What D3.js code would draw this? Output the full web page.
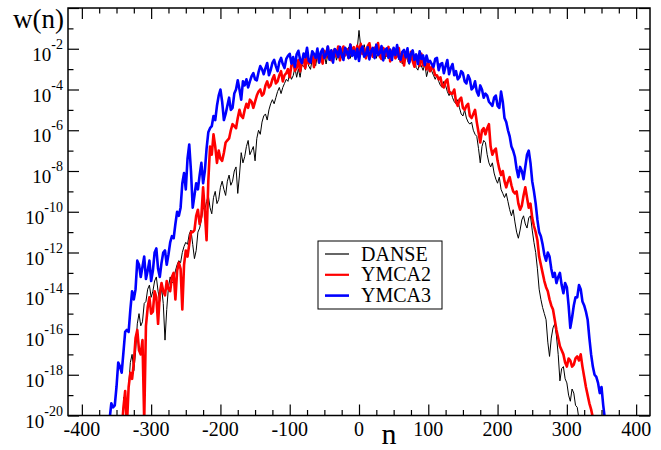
<!DOCTYPE html>
<html><head><meta charset="utf-8">
<script src="https://cdn.jsdelivr.net/npm/d3@7"></script>
<style>
body{margin:0;background:#fff}
svg{display:block}
text{font-family:"Liberation Serif","Times New Roman",serif;fill:#000}
</style>
</head><body>
<svg id="c" width="661" height="450"></svg>
<script>
// n values (main grid)
const nValues = [
-360,-355,-350,-345,-340,-335,-330,-325,-320,-315,
-310,-305,-300,-295,-290,-285,-280,-275,-270,-265,
-260,-255,-250,-245,-240,-235,-230,-225,-220,-215,
-210,-205,-200,-195,-190,-185,-180,-175,-170,-165,
-160,-155,-150,-145,-140,-135,-130,-125,-120,-115,
-110,-105,-100,-95,-90,-85,-80,-75,-70,-65,
-60,-55,-50,-45,-40,-35,-30,-25,-20,-15,
-10,-5,0,5,10,15,20,25,30,35,
40,45,50,55,60,65,70,75,80,85,
90,95,100,105,110,115,120,125,130,135,
140,145,150,155,160,165,170,175,180,185,
190,195,200,205,210,215,220,225,230,235,
240,245,250,255,260,265,270,275,280,285,
290,295,300,305,310,315,320,325,330,335,
340,345,350,355];
// n values in between
const nMid = [
-357.5,-352.5,-347.5,-342.5,-337.5,-332.5,-327.5,-322.5,-317.5,-312.5,
-307.5,-302.5,-297.5,-292.5,-287.5,-282.5,-277.5,-272.5,-267.5,-262.5,
-257.5,-252.5,-247.5,-242.5,-237.5,-232.5,-227.5,-222.5,-217.5,-212.5,
-207.5,-202.5,-197.5,-192.5,-187.5,-182.5,-177.5,-172.5,-167.5,-162.5,
-157.5,-152.5,-147.5,-142.5,-137.5,-132.5,-127.5,-122.5,-117.5,-112.5,
-107.5,-102.5,-97.5,-92.5,-87.5,-82.5,-77.5,-72.5,-67.5,-62.5,
-57.5,-52.5,-47.5,-42.5,-37.5,-32.5,-27.5,-22.5,-17.5,-12.5,
-7.5,-2.5,2.5,7.5,12.5,17.5,22.5,27.5,32.5,37.5,
42.5,47.5,52.5,57.5,62.5,67.5,72.5,77.5,82.5,87.5,
92.5,97.5,102.5,107.5,112.5,117.5,122.5,127.5,132.5,137.5,
142.5,147.5,152.5,157.5,162.5,167.5,172.5,177.5,182.5,187.5,
192.5,197.5,202.5,207.5,212.5,217.5,222.5,227.5,232.5,237.5,
242.5,247.5,252.5,257.5,262.5,267.5,272.5,277.5,282.5,287.5,
292.5,297.5,302.5,307.5,312.5,317.5,322.5,327.5,332.5,337.5,
342.5,347.5,352.5];

// log10 w(n) (null = no point)
const danseExp = [
null,null,null,null,-19.1,-20.4,-17.4,-17.8,-15.5,-15.6,
-14.5,-13.8,-14.2,-13.4,-13.9,-13.7,-16.3,-13.7,-13.5,-12.9,
-12.4,-12.0,-11.5,-11.1,-11.6,-11.9,-10.8,-9.8,-9.5,-9.8,
-9.3,-9.6,-8.8,-8.9,-8.5,-8.7,-8.0,-9.1,-7.1,-7.3,
-6.5,-7.0,-7.5,-6.0,-5.6,-5.2,-5.0,-4.5,-4.4,-3.9,
-3.9,-3.5,-3.20,-3.32,-3.40,-3.40,-2.84,-2.56,-3.01,-2.62,
-2.27,-2.44,-2.29,-2.28,-2.51,-2.10,-2.21,-2.44,-2.30,-1.92,
-2.06,-2.32,-1.1,-2.19,-2.28,-2.05,-2.26,-2.47,-1.98,-2.13,
-2.00,-2.15,-2.14,-2.11,-2.32,-2.29,-2.58,-2.43,-2.34,-3.05,
-2.84,-2.75,-3.02,-3.1,-3.5,-3.6,-3.9,-3.8,-4.3,-4.4,
-4.7,-4.9,-5.3,-5.4,-5.7,-6.0,-6.3,-7.6,-6.5,-7.2,
-7.8,-8.1,-8.6,-8.9,-9.3,-9.5,-10.2,-10.5,-11.3,-10.4,
-10.6,-10.3,-10.9,-12.0,-13.8,-14.7,-15.3,-17.1,-15.7,-16.1,
-18.3,-17.6,-18.4,-19.3,-18.9,-19.6,-20.4,null,null,null,
null,null,null,null];
const danseMid = [
null,null,null,null,-19.5,-18.6,-17.0,-16.9,-15.0,-15.4,
-14.4,-13.6,-13.9,-13.2,-14.4,-14.5,-14.8,-13.2,-13.4,-12.6,
-12.5,-11.7,-11.6,-10.9,-12.3,-11.0,-10.4,-9.9,-9.2,-10.1,
-9.0,-9.4,-8.5,-9.2,-8.2,-8.5,-7.8,-8.2,-7.6,-6.8,
-7.2,-6.8,-6.4,-6.2,-5.3,-5.5,-4.7,-4.7,-4.1,-4.2,
-3.7,-3.6,-3.50,-2.94,-2.98,-2.82,-3.02,-2.85,-2.50,-2.83,
-2.68,-2.73,-2.75,-2.14,-2.41,-2.56,-2.07,-1.91,-2.21,-2.47,
-1.97,-1.99,-1.91,-1.80,-2.37,-1.98,-1.91,-2.13,-2.36,-2.51,
-2.30,-2.53,-2.41,-2.54,-2.75,-2.20,-2.77,-2.65,-2.92,-2.67,
-3.06,-3.37,-2.9,-3.3,-3.3,-3.8,-3.6,-4.1,-4.1,-4.6,
-4.5,-5.2,-5.0,-5.6,-5.6,-6.2,-6.9,-6.8,-6.6,-7.6,
-7.6,-8.4,-8.3,-9.1,-9.1,-9.9,-9.9,-11.0,-10.9,-10.2,
-10.8,-10.2,-11.5,-12.8,-14.3,-15.0,-16.4,-16.2,-15.5,-17.0,
-17.7,-18.2,-19.0,-18.7,-19.5,-20.2,null,null,null,null,
null,null,null];

const ymca2Exp = [
null,null,null,-21,-19.6,-20.5,-17.9,-17.4,-15.8,-17.0,
-20.3,-14.7,-15.0,-13.9,-15.5,-13.5,-14.1,-13.8,-13.2,-14.3,
-12.5,-14.8,-11.9,-11.6,-11.0,-10.2,-10.6,-8.8,-11.4,-6.8,
-6.2,-7.6,-7.4,-7.1,-6.5,-6.0,-5.8,-5.4,-5.3,-5.0,
-4.9,-4.6,-4.6,-4.1,-4.3,-3.8,-3.9,-3.5,-3.7,-3.3,
-3.6,-3.2,-3.40,-2.62,-2.94,-3.11,-2.48,-2.25,-2.60,-2.90,
-2.25,-2.25,-2.10,-1.91,-2.57,-2.03,-1.89,-2.10,-2.33,-2.46,
-2.14,-2.36,-2.15,-2.26,-2.47,-1.73,-2.39,-2.15,-2.38,-1.96,
-2.34,-2.62,-2.00,-2.34,-2.63,-2.82,-2.31,-2.15,-2.88,-2.55,
-2.25,-2.62,-2.65,-2.9,-3.3,-3.5,-3.8,-3.6,-4.1,-4.2,
-4.6,-4.5,-4.9,-4.8,-5.3,-5.2,-5.6,-6.6,-5.9,-5.9,
-6.8,-7.0,-7.5,-8.2,-8.5,-8.5,-8.7,-9.1,-9.6,-9.7,
-8.8,-9.8,-10.3,-11.0,-12.2,-13.0,-13.7,-14.3,-14.8,-15.8,
-16.6,-17.0,-17.6,-17.3,-17.5,-17.1,-17.0,-18.1,-19.0,-19.7,
-20.5,null,null,null];
const ymca2Mid = [
null,null,null,-20.8,-18.8,-18.6,-18.2,-16.2,-16.8,-16.3,
-15.6,-14.2,-14.9,-14.2,-14.0,-13.9,-13.4,-13.9,-13.0,-12.9,
-12.8,-12.6,-12.2,-11.0,-10.9,-9.9,-10.2,-10.0,-8.5,-7.2,
-6.8,-7.0,-7.5,-6.6,-6.4,-5.7,-5.9,-5.0,-5.4,-4.7,
-4.5,-4.9,-4.3,-4.0,-4.2,-3.6,-3.8,-3.3,-3.6,-3.1,
-3.3,-3.0,-2.81,-3.08,-2.55,-2.67,-2.94,-2.73,-2.23,-2.38,
-2.68,-2.73,-2.43,-2.49,-2.15,-2.36,-2.57,-1.89,-2.02,-1.80,
-1.92,-1.86,-1.76,-1.97,-1.88,-2.19,-1.95,-1.72,-2.50,-2.13,
-1.91,-2.14,-2.47,-1.96,-2.20,-2.19,-2.63,-2.59,-2.32,-2.85,
-2.83,-3.01,-3.1,-3.0,-3.3,-3.4,-3.9,-3.5,-4.2,-4.0,
-4.8,-4.4,-5.0,-4.7,-5.4,-5.0,-6.1,-6.0,-6.2,-5.7,
-7.2,-6.9,-7.9,-8.0,-8.8,-8.3,-9.0,-9.0,-9.9,-9.2,
-9.3,-9.6,-10.7,-11.4,-12.6,-13.4,-13.9,-14.6,-15.3,-16.2,
-16.8,-17.4,-17.2,-17.6,-17.2,-17.3,-17.6,-18.6,-19.4,-20.1,
null,null,null];

const ymca3Exp = [
-20.2,-19.6,-18.6,-17.6,-16.9,-15.8,-14.8,-14.3,-12.4,-13.2,
-12.2,-12.9,-13.4,-12.0,-12.8,-12.5,-11.9,-12.1,-11.2,-10.6,
-10.2,-8.6,-8.9,-6.7,-9.8,-8.6,-8.2,-8.6,-6.9,-5.9,
-5.3,-4.8,-4.0,-5.5,-4.8,-5.0,-4.2,-3.55,-4.5,-3.8,
-3.9,-3.35,-3.5,-3.15,-3.0,-2.95,-3.3,-2.7,-2.85,-2.65,
-2.75,-2.5,-2.25,-2.41,-2.27,-2.53,-2.24,-1.95,-2.68,-2.26,
-1.99,-2.17,-2.45,-1.89,-2.08,-2.02,-2.41,-2.30,-1.95,-2.45,
-2.35,-2.50,-2.60,-1.89,-2.28,-2.52,-1.96,-1.80,-2.21,-2.57,
-1.98,-2.04,-1.95,-1.82,-2.54,-2.06,-1.98,-2.25,-2.55,-2.75,
-2.50,-2.80,-2.65,-2.75,-2.5,-3.05,-2.7,-2.85,-3.25,-2.75,
-3.1,-3.4,-3.2,-3.7,-3.5,-3.9,-4.1,-3.8,-4.4,-4.3,
-4.7,-4.4,-4.8,-4.1,-5.4,-6.0,-6.8,-7.3,-8.3,-8.0,
-7.8,-7.0,-8.5,-9.6,-11.0,-11.6,-12.4,-12.2,-13.2,-13.5,
-13.0,-14.0,-13.7,-15.7,-14.6,-14.2,-13.8,-14.6,-15.3,-17.0,
-18.0,-18.4,-18.6,-20.2];
const ymca3Mid = [
-19.4,-19.5,-17.4,-17.9,-15.9,-15.9,-13.9,-13.8,-12.6,-12.7,
-13.3,-12.4,-12.9,-11.8,-13.2,-12.0,-12.6,-11.5,-11.3,-10.0,
-9.8,-8.1,-7.4,-8.0,-9.2,-8.9,-7.6,-8.0,-6.1,-5.8,
-5.5,-4.3,-4.6,-5.2,-4.4,-4.9,-4.0,-4.0,-3.6,-3.5,
-3.6,-3.2,-3.55,-2.85,-3.25,-2.7,-3.05,-2.55,-3.1,-2.45,
-2.95,-2.35,-2.73,-2.89,-2.10,-2.71,-2.42,-2.59,-2.12,-2.45,
-2.68,-2.01,-2.30,-2.54,-2.68,-2.12,-1.91,-2.55,-2.15,-1.80,
-2.10,-2.00,-2.05,-2.39,-1.93,-2.12,-2.46,-2.31,-1.87,-2.08,
-2.44,-2.55,-2.31,-2.43,-2.15,-2.42,-2.69,-2.08,-2.28,-2.13,
-2.33,-2.33,-2.6,-2.9,-2.45,-2.75,-3.2,-2.55,-2.95,-3.3,
-3.5,-3.1,-3.6,-3.3,-4.0,-3.6,-4.3,-4.0,-4.2,-4.6,
-4.8,-4.3,-4.9,-4.6,-5.6,-6.3,-7.0,-7.9,-7.8,-8.4,
-7.2,-7.6,-9.0,-10.4,-11.2,-12.1,-12.0,-12.8,-13.0,-13.2,
-13.6,-13.5,-14.6,-15.2,-14.2,-13.6,-14.4,-14.9,-16.2,-17.6,
-18.1,-18.9,-19.5];

const seriesNames = ["DANSE","YMCA2","YMCA3"];
const seriesColors = ["#000000","#ff0000","#0000ff"];
const seriesWidths = [1,2.6,2.6];
const legendWidths = [1.2,2.2,2.6];
const xTickLabels = [-400,-300,-200,-100,0,100,200,300,400];
const yTickExps = [-20,-18,-16,-14,-12,-10,-8,-6,-4,-2];

const svg = d3.select("#c");
const L=68, R=650, T=8, B=415.5;
const x = d3.scaleLinear().domain([-420,420]).range([L,R]);
const y = d3.scaleLog().domain([1e-20,1]).range([B,T]);

svg.append("defs").append("clipPath").attr("id","clip")
  .append("rect").attr("x",L).attr("y",T).attr("width",R-L).attr("height",B-T);

// data lines
const allSeries = [[danseExp,danseMid],[ymca2Exp,ymca2Mid],[ymca3Exp,ymca3Mid]];
const line = d3.line()
  .defined(d => d[1] !== null)
  .x(d => x(d[0]))
  .y(d => y(Math.pow(10, d[1])));
const plot = svg.append("g").attr("clip-path","url(#clip)");
allSeries.forEach(([main,mid],i) => {
  const pts = [];
  nValues.forEach((n,j) => {
    pts.push([n, main[j]]);
    if (j < nMid.length) {
      const v = (main[j] !== null && main[j+1] !== null) ? mid[j] : null;
      if (v !== null) pts.push([nMid[j], v]);
    }
  });
  plot.append("path").datum(pts)
    .attr("d", line)
    .attr("fill","none")
    .attr("stroke", seriesColors[i])
    .attr("stroke-width", seriesWidths[i])
    .attr("stroke-linejoin","round");
});

// axes ticks (inward on all four sides)
const xMinor = d3.range(-400, 401, 25).filter(v => v % 100 !== 0);
const yMajor = d3.range(-20, 1, 2).map(e => Math.pow(10,e));
const yMinor = d3.range(-19, 0, 2).map(e => Math.pow(10,e));
function clean(g){ g.select(".domain").remove(); g.selectAll(".tick line").attr("stroke","#000").attr("stroke-width",1.2); g.selectAll("text").remove(); }
svg.append("g").attr("transform",`translate(0,${B})`).call(d3.axisBottom(x).tickValues(xTickLabels).tickSize(-11)).call(clean);
svg.append("g").attr("transform",`translate(0,${B})`).call(d3.axisBottom(x).tickValues(xMinor).tickSize(-5.5)).call(clean);
svg.append("g").attr("transform",`translate(0,${T})`).call(d3.axisTop(x).tickValues(xTickLabels).tickSize(-11)).call(clean);
svg.append("g").attr("transform",`translate(0,${T})`).call(d3.axisTop(x).tickValues(xMinor).tickSize(-5.5)).call(clean);
svg.append("g").attr("transform",`translate(${L},0)`).call(d3.axisLeft(y).tickValues(yMajor).tickSize(-11)).call(clean);
svg.append("g").attr("transform",`translate(${L},0)`).call(d3.axisLeft(y).tickValues(yMinor).tickSize(-5.5)).call(clean);
svg.append("g").attr("transform",`translate(${R},0)`).call(d3.axisRight(y).tickValues(yMajor).tickSize(-11)).call(clean);
svg.append("g").attr("transform",`translate(${R},0)`).call(d3.axisRight(y).tickValues(yMinor).tickSize(-5.5)).call(clean);

// frame
svg.append("rect").attr("x",L).attr("y",T).attr("width",R-L).attr("height",B-T)
  .attr("fill","none").attr("stroke","#000").attr("stroke-width",1.5);

// x tick labels
svg.append("g").selectAll("text").data(xTickLabels).join("text")
  .attr("x", d => x(d)).attr("y", 436)
  .attr("text-anchor","middle").attr("font-size",20)
  .text(d => String(d));

// y tick labels
const yl = svg.append("g").selectAll("text").data(yTickExps).join("text")
  .attr("x", 63).attr("y", d => y(Math.pow(10,d)) + 12)
  .attr("text-anchor","end").attr("font-size",19);
yl.append("tspan").text("10");
yl.append("tspan").attr("dy",-12).attr("font-size",14).text(d => String(d));

// axis titles
svg.append("text").attr("x",13).attr("y",28).attr("font-size",27).text("w(n)");
svg.append("text").attr("x",389).attr("y",444).attr("text-anchor","middle").attr("font-size",30).text("n");

// legend
const lg = svg.append("g");
lg.append("rect").attr("x",318).attr("y",241).attr("width",124).attr("height",68)
  .attr("fill","#fff").attr("stroke","#000").attr("stroke-width",1);
seriesNames.forEach((name,i) => {
  const yy = 254 + i*20.8;
  lg.append("line").attr("x1",325).attr("x2",349).attr("y1",yy).attr("y2",yy)
    .attr("stroke",seriesColors[i]).attr("stroke-width",legendWidths[i]);
  lg.append("text").attr("x",361).attr("y",yy+6.5).attr("font-size",20).text(name);
});
</script>
</body></html>
